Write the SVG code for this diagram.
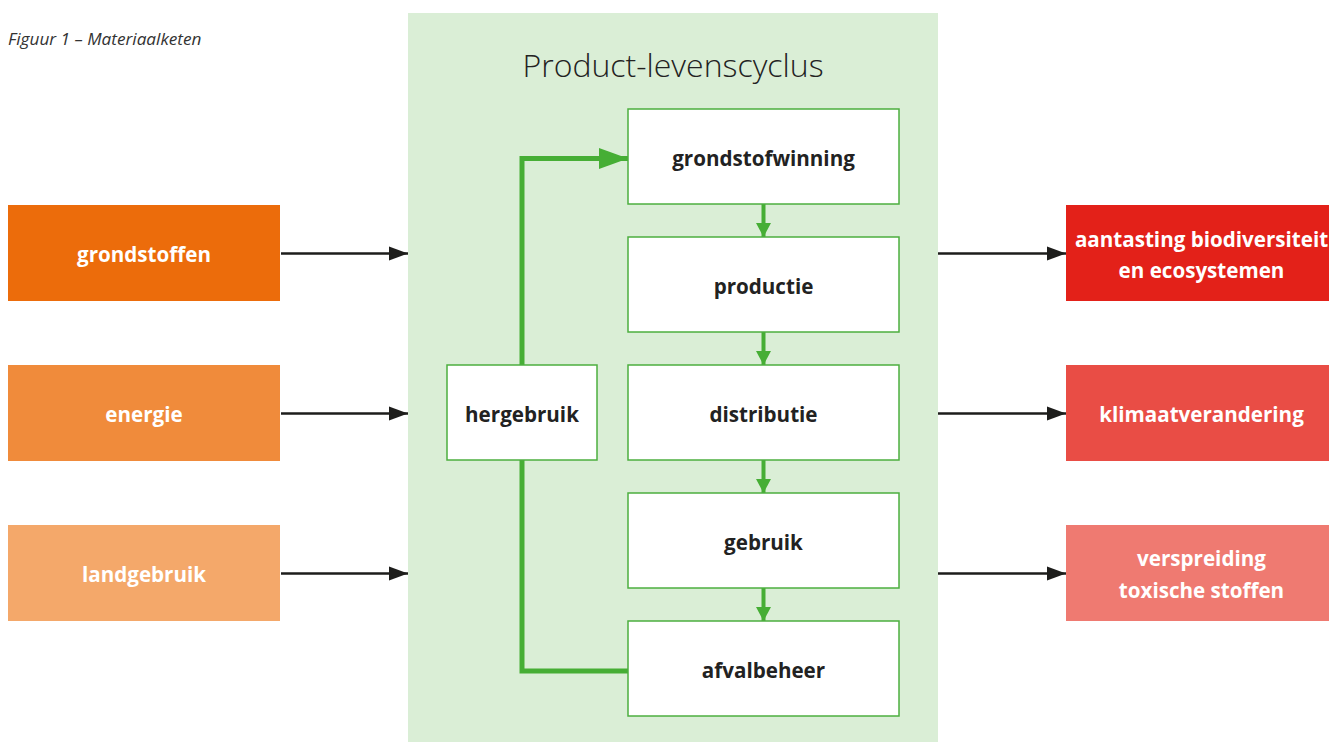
<svg xmlns="http://www.w3.org/2000/svg" width="1329" height="742" viewBox="0 0 1329 742">
<defs>
<style>
.lbl{font-family:"Open Sans","Noto Sans","Liberation Sans",sans-serif;font-weight:700;font-size:20.6px;text-anchor:middle}
.w{fill:#ffffff}
.d{fill:#222222}
.node{fill:#ffffff;stroke:#4caf3f;stroke-width:1.5}
.blk{stroke:#1d1d1b;stroke-width:2.5;fill:none}
.grn{stroke:#46ae35;stroke-width:5;fill:none}
</style>
<marker id="ab" markerUnits="userSpaceOnUse" markerWidth="20" markerHeight="16" refX="19" refY="7" orient="auto" viewBox="0 0 20 14">
<path d="M0,0 L19,7 L0,14 Z" fill="#1d1d1b"/>
</marker>
<marker id="ag" markerUnits="userSpaceOnUse" markerWidth="14" markerHeight="16" refX="14" refY="7.5" orient="auto" viewBox="0 0 14 15">
<path d="M0,0 L14,7.5 L0,15 Z" fill="#46ae35"/>
</marker>
<marker id="agl" markerUnits="userSpaceOnUse" markerWidth="30" markerHeight="22" refX="29" refY="10.5" orient="auto" viewBox="0 0 30 21">
<path d="M0,0 L29,10.5 L0,21 Z" fill="#46ae35"/>
</marker>
</defs>
<rect width="1329" height="742" fill="#ffffff"/>
<text x="8" y="45" font-family="Open Sans,Noto Sans,sans-serif" font-style="italic" font-size="17.2" fill="#333333">Figuur 1 – Materiaalketen</text>
<g id="panel">
<rect x="408" y="13" width="530" height="729" fill="#daeed6"/>
<text x="673" y="77" font-family="Open Sans,Noto Sans,sans-serif" font-weight="300" font-size="32" fill="#222222" text-anchor="middle">Product-levenscyclus</text>
</g>
<g id="connectors">
<line class="blk" x1="281" y1="253.5" x2="408" y2="253.5" marker-end="url(#ab)"/>
<line class="blk" x1="281" y1="413.5" x2="408" y2="413.5" marker-end="url(#ab)"/>
<line class="blk" x1="281" y1="573.5" x2="408" y2="573.5" marker-end="url(#ab)"/>
<line class="blk" x1="938" y1="253.5" x2="1066" y2="253.5" marker-end="url(#ab)"/>
<line class="blk" x1="938" y1="413.5" x2="1066" y2="413.5" marker-end="url(#ab)"/>
<line class="blk" x1="938" y1="573.5" x2="1066" y2="573.5" marker-end="url(#ab)"/>
<line class="grn" style="stroke-width:4" x1="763.5" y1="204" x2="763.5" y2="237" marker-end="url(#ag)"/>
<line class="grn" style="stroke-width:4" x1="763.5" y1="332" x2="763.5" y2="365" marker-end="url(#ag)"/>
<line class="grn" style="stroke-width:4" x1="763.5" y1="460" x2="763.5" y2="493" marker-end="url(#ag)"/>
<line class="grn" style="stroke-width:4" x1="763.5" y1="588" x2="763.5" y2="621" marker-end="url(#ag)"/>
<polyline class="grn" points="628,671 522,671 522,460"/>
<polyline class="grn" points="522,365 522,158.5 628,158.5" marker-end="url(#agl)"/>
</g>
<g id="n-grondstoffen"><rect x="8" y="205" width="272" height="96" fill="#ec6c0b"/><text class="lbl w" x="144" y="262">grondstoffen</text></g>
<g id="n-energie"><rect x="8" y="365" width="272" height="96" fill="#f08b3b"/><text class="lbl w" x="144" y="422">energie</text></g>
<g id="n-landgebruik"><rect x="8" y="525" width="272" height="96" fill="#f4a86a"/><text class="lbl w" x="144" y="582">landgebruik</text></g>
<g id="n-aantasting"><rect x="1066" y="205" width="263" height="96" fill="#e32119"/><text class="lbl w" x="1201.5" y="247">aantasting biodiversiteit</text><text class="lbl w" x="1201.5" y="278">en ecosystemen</text></g>
<g id="n-klimaat"><rect x="1066" y="365" width="263" height="96" fill="#e94d45"/><text class="lbl w" x="1201.5" y="422">klimaatverandering</text></g>
<g id="n-verspreiding"><rect x="1066" y="525" width="263" height="96" fill="#ef7a71"/><text class="lbl w" x="1201.5" y="566">verspreiding</text><text class="lbl w" x="1201.5" y="598">toxische stoffen</text></g>
<g id="n-grondstofwinning"><rect class="node" x="628" y="109" width="271" height="95"/><text class="lbl d" x="763.5" y="166">grondstofwinning</text></g>
<g id="n-productie"><rect class="node" x="628" y="237" width="271" height="95"/><text class="lbl d" x="763.5" y="294">productie</text></g>
<g id="n-distributie"><rect class="node" x="628" y="365" width="271" height="95"/><text class="lbl d" x="763.5" y="422">distributie</text></g>
<g id="n-gebruik"><rect class="node" x="628" y="493" width="271" height="95"/><text class="lbl d" x="763.5" y="550">gebruik</text></g>
<g id="n-afvalbeheer"><rect class="node" x="628" y="621" width="271" height="95"/><text class="lbl d" x="763.5" y="678">afvalbeheer</text></g>
<g id="n-hergebruik"><rect class="node" x="447" y="365" width="150" height="95"/><text class="lbl d" x="522" y="422">hergebruik</text></g>
</svg>
